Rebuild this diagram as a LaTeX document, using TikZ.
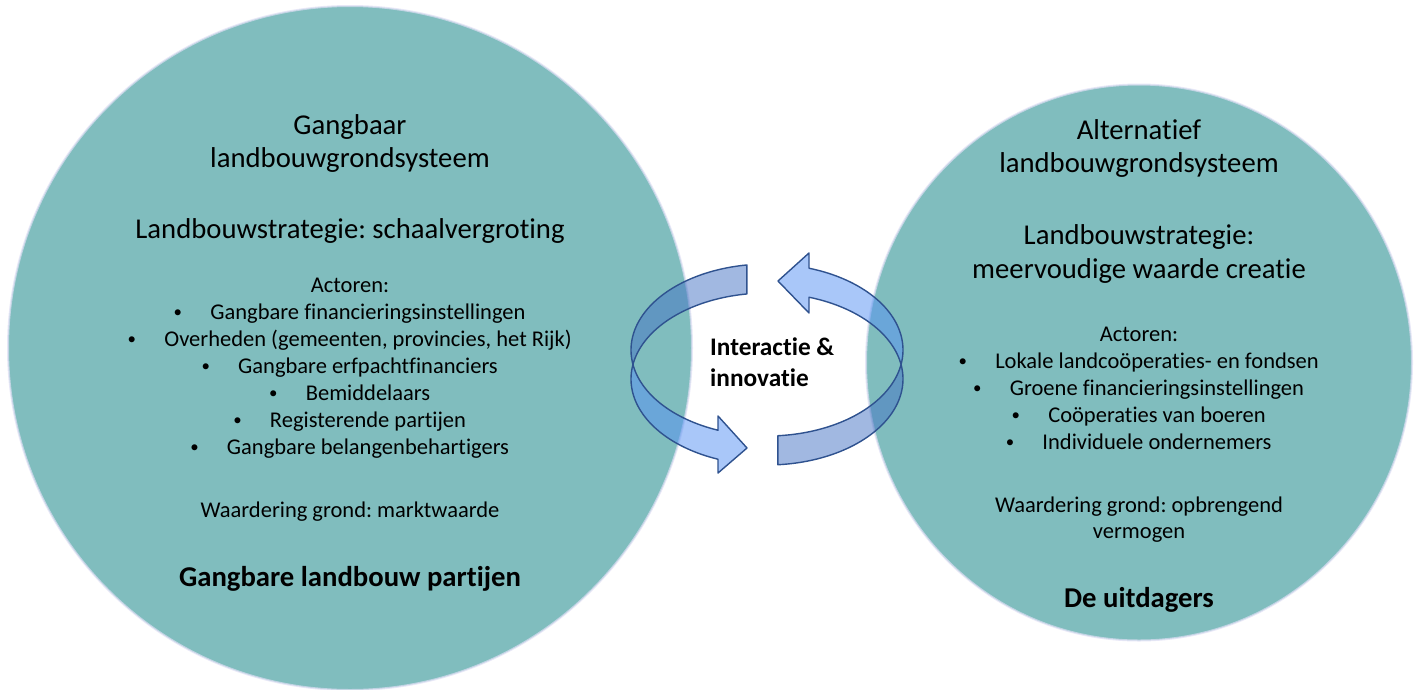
\documentclass[tikz,border=0pt]{standalone}
\usepackage{fontspec}
\setmainfont{Carlito}[Ligatures=NoCommon]
\frenchspacing
\definecolor{disc}{RGB}{128,189,190}
\definecolor{rim}{RGB}{47,82,143}
\definecolor{bandback}{RGB}{68,114,196}
\definecolor{bandfront}{RGB}{85,145,245}
\definecolor{halo}{RGB}{222,222,244}
\newcommand\bulletline[1]{\hspace{3.5pt}\makebox[0pt]{\raisebox{1.6pt}{\scalebox{0.75}{\textbullet}}}\hspace{32.5pt}#1}
\tikzset{
  big/.style={font=\fontsize{28.7}{33}\selectfont, anchor=base, inner sep=0pt},
  small/.style={font=\fontsize{22.5}{27}\selectfont, anchor=base, inner sep=0pt},
  heading/.style={font=\fontsize{28.7}{33}\selectfont\bfseries, anchor=base, inner sep=0pt},
  centre/.style={font=\fontsize{25.3}{31}\selectfont\bfseries, anchor=base west, inner sep=0pt},
  lobeback/.style={fill=bandback, fill opacity=0.5},
  lobefront/.style={fill=bandfront, fill opacity=0.5},
  arrowrim/.style={draw=rim, line width=1.4pt, line join=round},
  disc edge/.style={draw=halo, draw opacity=0.7, line width=2pt, fill=disc},
}
\begin{document}
\begin{tikzpicture}[x=1pt, y=-1pt]
  \useasboundingbox (0,0) rectangle (1422,689);
  \fill[white] (0,0) rectangle (1422,689);
  \clip (0,0) rectangle (1422,689);

  % the two systems
  \path[disc edge] (350,348) circle [radius=342pt];
  \path[disc edge] (1139,362.5) ellipse [x radius=273pt, y radius=278pt];

  % circular arrow: band between two equal ellipses shifted vertically
  % left arrow, top tail -> bottom head
  \fill[lobeback]
    plot[domain=261.5:170.3, samples=50, variable=\t] ({767+136*cos(\t)},{350+86*sin(\t)})
    -- plot[domain=189.7:261.5, samples=50, variable=\t] ({767+136*cos(\t)},{379+86*sin(\t)})
    -- cycle;
  \fill[lobefront]
    plot[domain=170.3:111.1, samples=40, variable=\t] ({767+136*cos(\t)},{350+86*sin(\t)})
    -- (718,416) -- (747,448) -- (718,473)
    -- plot[domain=111.1:189.7, samples=40, variable=\t] ({767+136*cos(\t)},{379+86*sin(\t)})
    -- cycle;
  \path[arrowrim]
    plot[domain=261.5:111.1, samples=90, variable=\t] ({767+136*cos(\t)},{350+86*sin(\t)})
    -- (718,416) -- (747,448) -- (718,473)
    -- plot[domain=111.1:261.5, samples=90, variable=\t] ({767+136*cos(\t)},{379+86*sin(\t)})
    -- cycle;

  % right arrow, bottom tail -> top head
  \fill[lobeback]
    plot[domain=85.4:9.7, samples=50, variable=\t] ({767+136*cos(\t)},{350+86*sin(\t)})
    -- plot[domain=-9.7:85.4, samples=50, variable=\t] ({767+136*cos(\t)},{379+86*sin(\t)})
    -- cycle;
  \fill[lobefront]
    plot[domain=9.7:-72, samples=40, variable=\t] ({767+136*cos(\t)},{350+86*sin(\t)})
    -- (809,253) -- (778,281) -- (809,313)
    -- plot[domain=-72:-9.7, samples=40, variable=\t] ({767+136*cos(\t)},{379+86*sin(\t)})
    -- cycle;
  \path[arrowrim]
    plot[domain=85.4:-72, samples=90, variable=\t] ({767+136*cos(\t)},{350+86*sin(\t)})
    -- (809,253) -- (778,281) -- (809,313)
    -- plot[domain=-72:85.4, samples=90, variable=\t] ({767+136*cos(\t)},{379+86*sin(\t)})
    -- cycle;

  \node[centre] (mid1) at (710,355) {Interactie \&};
  \node[centre] (mid2) at (710,386) {innovatie};

  % conventional system
  \node[big] (l1) at (350,134) {Gangbaar};
  \node[big] (l2) at (350,167) {landbouwgrondsysteem};
  \node[big] (l3) at (350,238) {Landbouwstrategie: schaalvergroting};
  \node[small] (l4) at (350,292) {Actoren:};
  \node[small] (la) at (350,319.5) {\bulletline{Gangbare financieringsinstellingen}};
  \node[small] (lb) at (350,346.5) {\bulletline{Overheden (gemeenten, provincies, het Rijk)}};
  \node[small] (lc) at (350,373.5) {\bulletline{Gangbare erfpachtfinanciers}};
  \node[small] (ld) at (350,400.5) {\bulletline{Bemiddelaars}};
  \node[small] (le) at (350,427.5) {\bulletline{Registerende partijen}};
  \node[small] (lf) at (350,454.5) {\bulletline{Gangbare belangenbehartigers}};
  \node[small] (l5) at (350,517) {Waardering grond: marktwaarde};
  \node[heading] (l6) at (350,586) {Gangbare landbouw partijen};

  % alternative system
  \node[big] (r1) at (1139,139) {Alternatief};
  \node[big] (r2) at (1139,172) {landbouwgrondsysteem};
  \node[big] (r3) at (1139,244) {Landbouwstrategie:};
  \node[big] (r4) at (1139,278) {meervoudige waarde creatie};
  \node[small] (r5) at (1139,341) {Actoren:};
  \node[small] (ra) at (1139,368) {\bulletline{Lokale landcoöperaties- en fondsen}};
  \node[small] (rb) at (1139,395) {\bulletline{Groene financieringsinstellingen}};
  \node[small] (rc) at (1139,422) {\bulletline{Coöperaties van boeren}};
  \node[small] (rd) at (1139,449) {\bulletline{Individuele ondernemers}};
  \node[small] (r6) at (1139,512) {Waardering grond: opbrengend};
  \node[small] (r7) at (1139,538) {vermogen};
  \node[heading] (r8) at (1139,607) {De uitdagers};
\end{tikzpicture}
\end{document}
